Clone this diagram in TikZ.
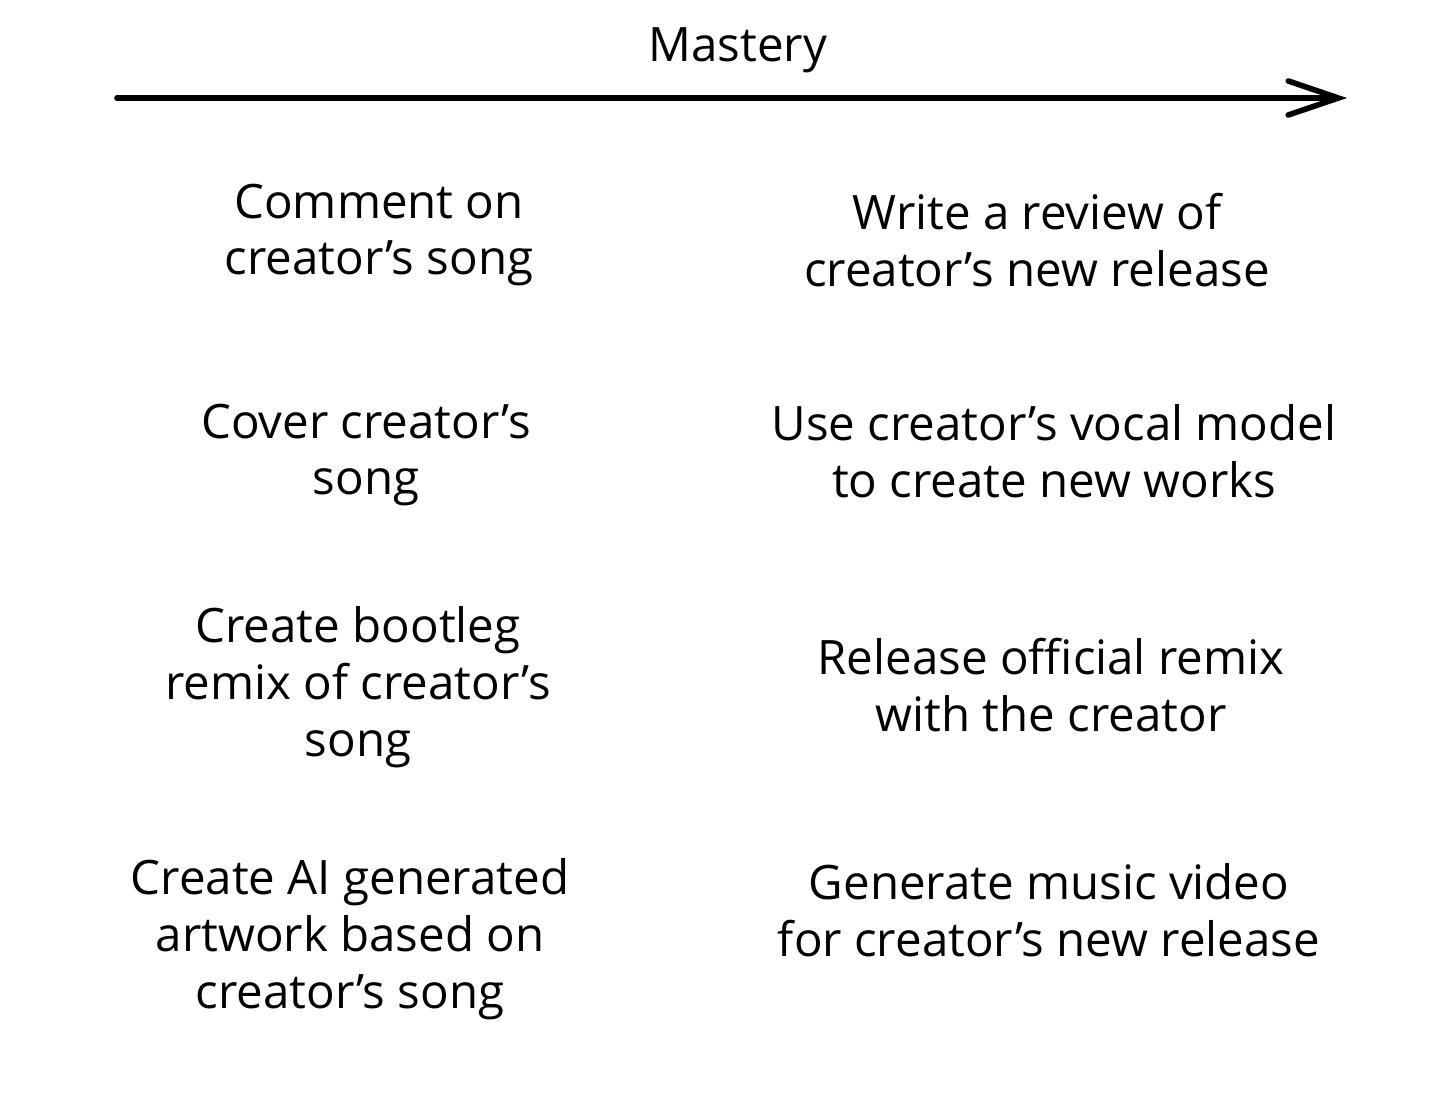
\documentclass[tikz,border=0pt]{standalone}
\usepackage{fontspec}
\setmainfont{Open Sans}
\usetikzlibrary{positioning}
\usetikzlibrary{arrows.meta}

\begin{document}
\begin{tikzpicture}[item/.style = {align=center, font=\fontsize{13.5}{16.2}\selectfont}, axis/.style = {line width=1.6pt, line cap=round, -{Straight Barb[length=5mm, width=3.4mm, line cap=round]}}]
    \useasboundingbox (0,0) rectangle (14.56,-10.95);
    \coordinate (start) at (1.17,-0.98);
    \coordinate (end) at (13.47,-0.98);
    \draw[axis] (start) -- (end);
    \node[item](mastery) at (7.38,-0.5){Mastery};
    % left column
    \node[item](comment) at (3.79,-2.35){Comment on\\creator’s song};
    \node[item](cover)[below of=comment, node distance=2.2cm, xshift=-0.13cm]{Cover creator’s\\song};
    \node[item](bootleg)[below of=cover, node distance=2.32cm, xshift=-0.08cm]{Create bootleg\\remix of creator’s\\song};
    \node[item](artwork)[below of=bootleg, node distance=2.52cm, xshift=-0.08cm]{Create AI generated\\artwork based on\\creator’s song};
    % right column
    \node[item](review) at (10.37,-2.4){Write a review of\\creator’s new release};
    \node[item](vocal)[below of=review, node distance=2.11cm, xshift=0.17cm]{Use creator’s vocal model\\to create new works};
    \node[item](remix)[below of=vocal, node distance=2.34cm, xshift=-0.03cm]{Release official remix\\with the creator};
    \node[item](video)[below of=remix, node distance=2.25cm, xshift=-0.02cm]{Generate music video\\for creator’s new release};
\end{tikzpicture}
\end{document}
